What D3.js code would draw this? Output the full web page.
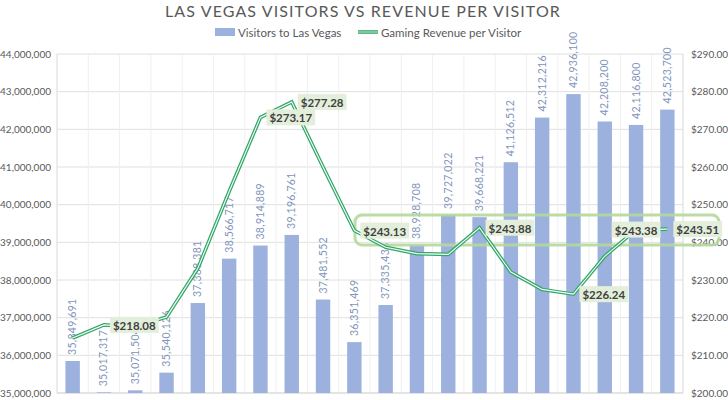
<!DOCTYPE html>
<html><head><meta charset="utf-8">
<script src="https://cdn.jsdelivr.net/npm/d3@7"></script>
<style>
html,body{margin:0;padding:0;background:#fff;overflow:hidden;}
text{font-family:Lato,"Open Sans",sans-serif;}
</style></head>
<body><svg id="c" width="728" height="400"></svg>
<script>
const years = ["1998","1999","2000","2001","2002","2003","2004","2005","2006","2007","2008","2009","2010","2011","2012","2013","2014","2015","2016","2017"];
const visitors = [35849691,35017317,35071504,35540126,37388381,38566717,38914889,39196761,37481552,36351469,37335436,38928708,39727022,39668221,41126512,42312216,42936100,42208200,42116800,42523700];
const revenue = [214.6,218.08,217.6,220.2,233.1,253.5,273.17,277.28,260.0,243.13,238.7,237.0,236.8,243.88,232.1,227.5,226.24,236.3,243.38,243.51];
const labeled = [1,6,7,9,13,16,18,19];
const centeredLabels = [18];
const leftTicks = [35e6,36e6,37e6,38e6,39e6,40e6,41e6,42e6,43e6,44e6];
const rightTicks = [200,210,220,230,240,250,260,270,280,290];

const svg = d3.select("#c");
const L = 57, R = 683, T = 54, B = 393;
const x = d3.scaleBand().domain(years).range([L,R]).paddingInner(0.54).paddingOuter(0.27);
const xb = d3.scaleBand().domain(years).range([L,R]);
const yL = d3.scaleLinear().domain([35e6,44e6]).range([B,T]);
const yR = d3.scaleLinear().domain([200,290]).range([B,T]);

// title
svg.append("text").attr("x",363).attr("y",17).attr("text-anchor","middle")
  .attr("font-size",16).attr("fill","#595959").attr("letter-spacing",1.1)
  .text("LAS VEGAS VISITORS VS REVENUE PER VISITOR");

// gridlines
svg.append("g").selectAll("line").data(leftTicks).join("line")
  .attr("x1",L).attr("x2",R).attr("y1",d=>yL(d)).attr("y2",d=>yL(d))
  .attr("stroke","#e0e0e0").attr("stroke-width",1);
svg.append("g").selectAll("line").data(years.slice(1)).join("line")
  .attr("x1",d=>xb(d)).attr("x2",d=>xb(d)).attr("y1",T).attr("y2",B)
  .attr("stroke","#efefef").attr("stroke-width",1);
svg.append("line").attr("x1",L).attr("x2",L).attr("y1",T).attr("y2",B).attr("stroke","#d9d9d9");
svg.append("line").attr("x1",R).attr("x2",R).attr("y1",T).attr("y2",B).attr("stroke","#d9d9d9");
svg.append("line").attr("x1",L).attr("x2",R).attr("y1",B).attr("y2",B).attr("stroke","#d9d9d9");

// axes
const fmt = d3.format(",");
const ax = svg.append("g").attr("transform",`translate(${L-6},0)`)
  .call(d3.axisLeft(yL).tickValues(leftTicks).tickFormat(fmt).tickSize(0).tickPadding(0));
ax.select(".domain").remove();
ax.selectAll("text").attr("font-size",10).attr("fill","#595959").attr("font-family","Lato,'Open Sans',sans-serif");
const ar = svg.append("g").attr("transform",`translate(${R+8},0)`)
  .call(d3.axisRight(yR).tickValues(rightTicks).tickFormat(d=>"$"+d3.format(".2f")(d)).tickSize(0).tickPadding(0));
ar.select(".domain").remove();
ar.selectAll("text").attr("font-size",10).attr("fill","#595959").attr("font-family","Lato,'Open Sans',sans-serif");

// bars
svg.append("g").selectAll("rect").data(years).join("rect")
  .attr("x",d=>x(d)).attr("width",x.bandwidth())
  .attr("y",(d,i)=>yL(visitors[i])).attr("height",(d,i)=>B-yL(visitors[i]))
  .attr("fill","#9cb1de");
svg.append("g").selectAll("text").data(years).join("text")
  .attr("transform",(d,i)=>`translate(${x(d)+x.bandwidth()/2+3.5},${yL(visitors[i])-6}) rotate(-90)`)
  .attr("font-size",10.5).attr("fill","#7f95bb").attr("letter-spacing",0.3)
  .text((d,i)=>fmt(visitors[i]));

// highlight box
svg.append("rect").attr("x",355).attr("y",215).attr("width",364).attr("height",30).attr("rx",7)
  .attr("fill","none").attr("stroke","#b4d89a").attr("stroke-width",3).attr("opacity",0.9);

// line
const line = d3.line().x((d,i)=>xb(years[i])+xb.bandwidth()/2).y(d=>yR(d));
svg.append("path").datum(revenue).attr("d",line).attr("fill","none")
  .attr("stroke","#35a66a").attr("stroke-width",3.6).attr("stroke-linejoin","miter");
svg.append("path").datum(revenue).attr("d",line).attr("fill","none")
  .attr("stroke","#f2fff6").attr("stroke-width",1.1);

// data labels
const lg = svg.append("g");
labeled.forEach(i=>{
  const px = xb(years[i])+xb.bandwidth()/2, py = yR(revenue[i]);
  const g = lg.append("g");
  const t = g.append("text").attr("font-size",11.5).attr("font-weight","bold").attr("fill","#404040")
    .attr("dominant-baseline","central").text("$"+revenue[i].toFixed(2));
  const w = t.node().getComputedTextLength();
  const tx = centeredLabels.includes(i) ? px - w/2 : px + 9;
  t.attr("x",tx).attr("y",py+0.5);
  g.insert("rect","text").attr("x",tx-3).attr("y",py-8).attr("width",w+6).attr("height",16).attr("fill","#e3efdb");
});

// legend
const leg = svg.append("g");
leg.append("rect").attr("x",215).attr("y",28).attr("width",20).attr("height",8).attr("fill","#9cb1de");
leg.append("text").attr("x",238).attr("y",32).attr("dominant-baseline","central").attr("font-size",11.5).attr("fill","#595959").text("Visitors to Las Vegas");
leg.append("line").attr("x1",358).attr("x2",378).attr("y1",32).attr("y2",32).attr("stroke","#35a66a").attr("stroke-width",3.6);
leg.append("line").attr("x1",358).attr("x2",378).attr("y1",32).attr("y2",32).attr("stroke","#bfeccf").attr("stroke-width",1);
leg.append("text").attr("x",381).attr("y",32).attr("dominant-baseline","central").attr("font-size",11.5).attr("fill","#595959").text("Gaming Revenue per Visitor");
</script></body></html>
